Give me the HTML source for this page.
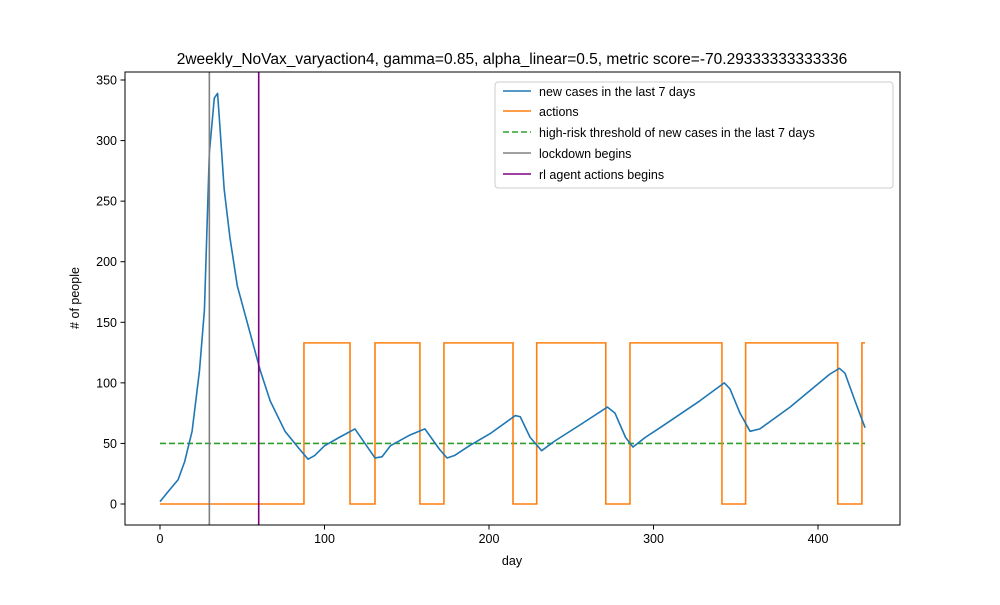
<!DOCTYPE html>
<html><head><meta charset="utf-8"><style>
body{margin:0;background:#fff;font-family:"Liberation Sans",sans-serif}
</style></head><body>
<svg id="chart" width="1000" height="600" xmlns="http://www.w3.org/2000/svg" font-family="Liberation Sans, sans-serif">
<rect width="1000" height="600" fill="#fff"/>
<text x="512" y="64" font-size="15.5" text-anchor="middle">2weekly_NoVax_varyaction4, gamma=0.85, alpha_linear=0.5, metric score=-70.29333333333336</text>
<g id="axes"></g>
<g id="marks"></g>
<rect x="125" y="72" width="775" height="453" fill="none" stroke="#000" stroke-width="1"/>
<text x="512" y="565" font-size="12.5" text-anchor="middle">day</text>
<text x="79" y="298" font-size="12.5" text-anchor="middle" transform="rotate(-90 79 298)"># of people</text>
<g>
<rect x="495" y="82" width="398" height="106" fill="#fff" stroke="#ccc" rx="3"/>
<g font-size="12.5">
<line x1="503" y1="91" x2="531" y2="91" stroke="#1f77b4" stroke-width="1.6"/><text x="539" y="96">new cases in the last 7 days</text>
<line x1="503" y1="111" x2="531" y2="111" stroke="#ff7f0e" stroke-width="1.6"/><text x="539" y="116">actions</text>
<line x1="503" y1="132" x2="531" y2="132" stroke="#2ca02c" stroke-width="1.6" stroke-dasharray="6,3"/><text x="539" y="137">high-risk threshold of new cases in the last 7 days</text>
<line x1="503" y1="153" x2="531" y2="153" stroke="#808080" stroke-width="1.6"/><text x="539" y="158">lockdown begins</text>
<line x1="503" y1="174" x2="531" y2="174" stroke="#800080" stroke-width="1.6"/><text x="539" y="179">rl agent actions begins</text>
</g></g>
</svg>
<script>
const xTicks=[0,100,200,300,400];
const yTicks=[0,50,100,150,200,250,300,350];
const caseDays=[0,6,11,15,19.5,24,27,30,33,35,36.5,39,42.5,47,55,61,67,76,85,90,94,100,109,118.5,124.6,130.7,135,140,152,161,170,174.5,179,188,200.6,216,219,225,232,240,255,272,276.6,283,287.5,295,304,328,343,346.5,352.6,358.7,364.7,383,407,413,416.4,422.5,428.6];
const caseValues=[2,12,20,35,60,110,160,290,335,339,310,260,220,180,140,110,85,60,45,37,40,48,55,62,50,38,39,48,57,62,45,38,40,48,58,73,72,55,44,52,65,80,75,55,47,55,63,85,100,95,75,60,62,80,107,112,108,85,63];
const actionDays=[0,87.5,87.5,115.5,115.5,130.7,130.7,158,158,172.6,172.6,214.6,214.6,229,229,271,271,285.7,285.7,341.6,341.6,356,356,412,412,426.7,426.7,428.6];
const actionValues=[0,0,133,133,0,0,133,133,0,0,133,133,0,0,133,133,0,0,133,133,0,0,133,133,0,0,133,133];
const threshold=50, lockdownDay=30, rlDay=60;
const X=d=>160+d*1.645, Y=v=>504-v*1.2114;
const NS="http://www.w3.org/2000/svg";
const axes=document.getElementById('axes'), marks=document.getElementById('marks');
function mk(tag,attrs,parent){const e=document.createElementNS(NS,tag);for(const k in attrs)e.setAttribute(k,attrs[k]);parent.appendChild(e);return e;}
xTicks.forEach(t=>{
  const l=mk('line',{x1:X(t),x2:X(t),y1:525,y2:529.5,stroke:'#000'},axes);
  
  
  const tx=mk('text',{x:X(t),y:543,'font-size':12.5,'text-anchor':'middle'},axes);tx.textContent=t;
  
  
});
yTicks.forEach(t=>{
  const l=mk('line',{x1:120.5,x2:125,y1:Y(t),y2:Y(t),stroke:'#000'},axes);
  
  
  const tx=mk('text',{x:117,y:Y(t)+4.5,'font-size':12.5,'text-anchor':'end'},axes);tx.textContent=t;
  
  
});
const pts=(ds,vs)=>ds.map((d,i)=>X(d)+','+Y(vs[i])).join(' ');
const th=mk('line',{x1:X(0),x2:X(428.6),y1:Y(threshold),y2:Y(threshold),stroke:'#2ca02c','stroke-width':1.6,'stroke-dasharray':'6,3'},marks);


const ac=mk('polyline',{points:pts(actionDays,actionValues),fill:'none',stroke:'#ff7f0e','stroke-width':1.6},marks);


const cs=mk('polyline',{points:pts(caseDays,caseValues),fill:'none',stroke:'#1f77b4','stroke-width':1.6,'stroke-linejoin':'round'},marks);


const ld=mk('line',{x1:X(lockdownDay),x2:X(lockdownDay),y1:72,y2:525,stroke:'#808080','stroke-width':1.6},marks);


const rl=mk('line',{x1:X(rlDay),x2:X(rlDay),y1:72,y2:525,stroke:'#800080','stroke-width':1.6},marks);


</script>
</body></html>
